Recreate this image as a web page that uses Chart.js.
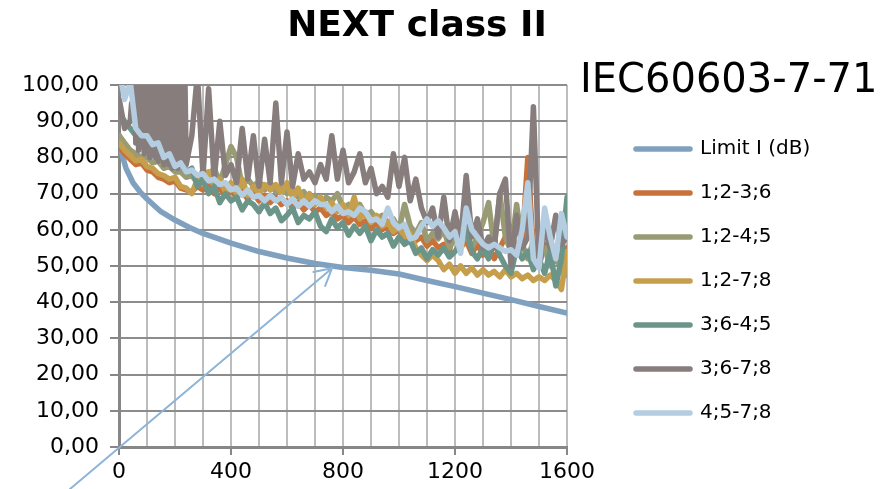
<!DOCTYPE html>
<html>
<head>
<meta charset="utf-8">
<title>NEXT class II</title>
<script src="https://cdn.jsdelivr.net/npm/chart.js@4.4.1/dist/chart.umd.min.js"></script>
<style>
  html, body { margin: 0; padding: 0; background: #fff; }
  #wrap { width: 887px; height: 489px; }
</style>
</head>
<body>
<div id="wrap"><canvas id="nextChart" width="887" height="489"></canvas></div>
<script>
// Titles
const chartTitle = 'NEXT class II';
const standardName = 'IEC60603-7-71';

// Limit line (dB)
const limitFreq = [1, 10, 25, 50, 75, 100, 150, 200, 250, 300, 400, 500, 600, 700, 800, 900, 1000, 1100, 1200, 1300, 1400, 1500, 1600];
const limitDb = [86, 81, 77, 73, 70.5, 68.5, 65, 62.7, 60.7, 59, 56.3, 54, 52.2, 50.7, 49.6, 48.8, 47.8, 46, 44.3, 42.5, 40.7, 38.8, 37];

// Measured pairs, sampled every 20 MHz
const freqMHz = [1, 20, 40, 60, 80, 100, 120, 140, 160, 180, 200, 220, 240, 260, 280, 300, 320, 340, 360, 380,
  400, 420, 440, 460, 480, 500, 520, 540, 560, 580, 600, 620, 640, 660, 680, 700, 720, 740, 760, 780,
  800, 820, 840, 860, 880, 900, 920, 940, 960, 980, 1000, 1020, 1040, 1060, 1080, 1100, 1120, 1140, 1160, 1180,
  1200, 1220, 1240, 1260, 1280, 1300, 1320, 1340, 1360, 1380, 1400, 1420, 1440, 1460, 1480, 1500, 1520, 1540, 1560, 1580, 1600];

// 3;6-7;8 swings very fast below 250 MHz, so it is read more finely there
const freqGray = [1, 20, 40, 45, 50, 55, 60, 65, 70, 75, 80, 85, 90, 95, 100, 105, 110, 115, 120, 125,
  130, 135, 140, 145, 150, 155, 160, 165, 170, 175, 180, 185, 190, 195, 200, 205, 210, 215, 220, 225,
  230, 235, 240, 260, 280, 300, 320, 340, 360, 380, 400, 420, 440, 460, 480, 500, 520, 540, 560, 580,
  600, 620, 640, 660, 680, 700, 720, 740, 760, 780, 800, 820, 840, 860, 880, 900, 920, 940, 960, 980,
  1000, 1020, 1040, 1060, 1080, 1100, 1120, 1140, 1160, 1180, 1200, 1220, 1240, 1260, 1280, 1300, 1320, 1340, 1360, 1380,
  1400, 1420, 1440, 1460, 1480, 1500, 1520, 1540, 1560, 1580, 1600];

const pair12_36 = [83, 81, 79.5, 78, 78.5, 76.5, 76, 74.5, 74, 73, 73.5, 71.5, 71, 70.5, 72, 71, 72.5, 70, 71.5, 69.5,
  71, 69, 70.5, 68.5, 70, 68, 69.5, 67.5, 69, 67, 68, 66, 67.5, 65.5, 67, 65, 66, 64, 65, 63,
  64, 62, 63.5, 61.5, 62.5, 60.5, 62, 60, 61, 59, 60, 57.5, 61, 57, 58, 55.5, 57, 55, 56, 54,
  62, 55, 57, 53.5, 56, 53, 55.5, 52, 55, 58, 61, 53, 56, 80, 54, 50, 56, 52, 54, 50, 55];

const pair12_45 = [86, 84, 82, 81, 80, 80, 78.5, 79, 77, 77.5, 76, 76, 74.5, 75, 73, 76.5, 75, 77, 73, 78,
  83, 80, 72, 74, 72, 73.5, 71, 73, 70.5, 72, 70, 71.5, 69, 70.5, 68, 69.5, 67, 69, 68, 70,
  66, 67, 65, 67, 64, 65, 63, 64, 62, 63, 60, 67, 61, 59, 62, 57, 59, 57.5, 60, 55,
  58, 56, 59, 55, 58, 62, 67.5, 55, 70, 58, 54, 67, 56, 52, 57, 53, 55, 50, 52, 49, 47.5];

const pair12_78 = [84, 82, 80.5, 79, 79.5, 77.5, 77, 75.5, 75, 74, 74.5, 72, 71.5, 70, 74, 72.5, 76, 72, 74, 70.5,
  73, 70, 74, 69.5, 72, 70, 72.5, 71, 72.5, 70, 73, 69, 71.5, 67.5, 70, 67, 69, 66, 67.5, 65,
  67, 64, 69, 63, 65, 62, 64, 61, 62, 59.5, 61, 58, 59, 55, 53, 51.5, 53, 51.5, 49, 50.5,
  48, 50, 48, 49.5, 47.5, 49, 47.5, 48.5, 47, 49, 47, 48, 46.5, 47.5, 46, 47, 46, 47.5, 46, 43.5, 54];

const pair36_45 = [92, 90, 88, 86, 84, 85, 82, 84, 80, 82, 79, 80, 76, 77, 72, 74, 70, 72, 67.5, 70,
  68, 69, 65.5, 68, 67, 65, 67.5, 64.5, 66, 62.5, 64, 66, 62, 64, 63, 65, 61, 59.5, 63, 60.5,
  62, 58.5, 61, 59, 61, 57, 60, 58, 59, 55.5, 58, 56, 57, 53.5, 55, 52, 54.5, 53, 55, 52.5,
  54, 56, 61, 54, 52, 55, 52, 57, 53, 50, 48, 55, 52, 54, 49, 52, 48, 54, 44.5, 52, 69];

const pair36_78 = [96, 88, 90, 95, 92, 104, 84, 104, 82, 104, 83, 104, 81, 104, 82, 104, 80, 104, 81, 104,
  80, 104, 79, 104, 80, 104, 78, 104, 79, 104, 78, 104, 77, 104, 78, 104, 77, 104, 78, 104,
  77, 104, 78, 86, 103, 75, 99, 74, 90, 75, 78, 73, 88, 74, 86, 72, 85, 73, 95, 73,
  87, 72, 81, 74, 76, 73, 78, 74, 86, 74, 82, 73, 76, 81, 73, 77, 70, 72, 69, 81,
  72, 80, 68, 74, 66, 62, 66, 58, 69, 57, 65, 57, 75, 58, 63, 55, 58, 55, 70, 74,
  50, 64, 55, 58, 94, 50, 61, 55, 64, 56, 58];

const pair45_78 = [104, 96, 101, 88, 86, 86, 83.5, 84, 80, 81, 77.5, 78.5, 76, 76.5, 75, 75.5, 73.5, 74, 72.5, 73,
  71, 71.5, 69.5, 71, 69, 69.5, 68, 69.5, 68, 69, 67, 68.5, 66.5, 68, 66.5, 68, 67, 67, 65, 66.5,
  64.5, 65, 64, 66, 65, 62.5, 63, 61.5, 66, 62, 60.5, 61.5, 57.5, 58, 61, 63, 61, 62.5, 60.5, 58,
  59.5, 53.5, 66, 60, 58, 56, 55, 56, 55, 54, 54.5, 53, 60, 73, 52, 49.5, 66, 58, 52, 64.5, 58];

// Arrow note, in data units (tail starts below/left of the plot)
const arrowFrom = [-175, -11.6];
const arrowTo = [761, 49.4];

const FONT = '"DejaVu Sans", sans-serif';

function toPoints(xs, ys) {
  return xs.map((x, i) => ({ x: x, y: ys[i] }));
}

function series(label, xs, ys, color, order) {
  return {
    label: label,
    data: toPoints(xs, ys),
    borderColor: color,
    backgroundColor: color,
    borderWidth: 5.5,
    pointRadius: 0,
    pointHoverRadius: 0,
    tension: 0,
    borderJoinStyle: 'round',
    borderCapStyle: 'round',
    clip: 0,
    order: order
  };
}

const datasets = [
  series('Limit I (dB)', limitFreq, limitDb, '#7FA1BF', 6),
  series('1;2-3;6', freqMHz, pair12_36, '#C8723B', 5),
  series('1;2-4;5', freqMHz, pair12_45, '#989B74', 4),
  series('1;2-7;8', freqMHz, pair12_78, '#C69F4D', 3),
  series('3;6-4;5', freqMHz, pair36_45, '#6B9589', 2),
  series('3;6-7;8', freqGray, pair36_78, '#867D7C', 1),
  series('4;5-7;8', freqMHz, pair45_78, '#B4CDE1', 0)
];

// Titles and the arrow pointing at the limit curve
const notesPlugin = {
  id: 'notes',
  afterDatasetsDraw(chart) {
    const c = chart.ctx;
    const xs = chart.scales.x, ys = chart.scales.y;
    const x0 = xs.getPixelForValue(arrowFrom[0]), y0 = ys.getPixelForValue(arrowFrom[1]);
    const x1 = xs.getPixelForValue(arrowTo[0]), y1 = ys.getPixelForValue(arrowTo[1]);
    const ang = Math.atan2(y1 - y0, x1 - x0);
    const head = 19;
    c.save();
    c.strokeStyle = '#8EB4D8';
    c.lineWidth = 2;
    c.lineCap = 'round';
    c.beginPath();
    c.moveTo(x0, y0);
    c.lineTo(x1, y1);
    c.moveTo(x1 - head * Math.cos(ang - 0.5), y1 - head * Math.sin(ang - 0.5));
    c.lineTo(x1, y1);
    c.lineTo(x1 - head * Math.cos(ang + 0.5), y1 - head * Math.sin(ang + 0.5));
    c.stroke();
    c.restore();
  },
  afterDraw(chart) {
    const c = chart.ctx;
    c.save();
    c.fillStyle = '#000';
    c.textBaseline = 'middle';
    c.textAlign = 'center';
    c.font = 'bold 36px ' + FONT;
    c.fillText(chartTitle, 417, 27);
    c.textAlign = 'left';
    c.font = '40px ' + FONT;
    c.fillText(standardName, 580, 82);
    c.restore();
  }
};

const ctx = document.getElementById('nextChart');

new Chart(ctx, {
  type: 'line',
  data: { datasets: datasets },
  plugins: [notesPlugin],
  options: {
    responsive: false,
    animation: false,
    events: [],
    layout: {
      padding: { top: 85, left: 0, right: 75, bottom: 0 }
    },
    plugins: {
      title: { display: false },
      tooltip: { enabled: false },
      legend: {
        position: 'right',
        align: 'end',
        fullSize: false,
        maxWidth: 200,
        labels: {
          usePointStyle: true,
          pointStyle: 'line',
          pointStyleWidth: 54,
          padding: 24,
          color: '#000',
          font: { family: FONT, size: 20 },
          generateLabels: function(chart) {
            const items = Chart.defaults.plugins.legend.labels.generateLabels(chart);
            return items.map(item => Object.assign(item, { lineCap: 'round' }));
          },
          sort: (a, b) => a.datasetIndex - b.datasetIndex
        }
      }
    },
    scales: {
      x: {
        type: 'linear',
        min: 0,
        max: 1600,
        afterFit: function(scale) { scale.height = 42; },
        border: { color: '#878787', width: 3 },
        grid: {
          color: '#BDBDBD',
          lineWidth: 2,
          tickLength: 8,
          tickWidth: 2,
          tickColor: function(c) {
            return c.tick && c.tick.value % 400 === 0 ? '#878787' : 'rgba(0,0,0,0)';
          }
        },
        ticks: {
          stepSize: 100,
          autoSkip: false,
          maxRotation: 0,
          minRotation: 0,
          padding: 4,
          color: '#000',
          font: { family: FONT, size: 22 },
          callback: function(value) {
            return value % 400 === 0 ? String(value) : '';
          }
        }
      },
      y: {
        type: 'linear',
        min: 0,
        max: 100,
        afterFit: function(scale) { scale.width = 119; },
        border: { color: '#878787', width: 3 },
        grid: {
          color: '#8C8C8C',
          lineWidth: 2,
          tickLength: 9,
          tickWidth: 2,
          tickColor: '#878787'
        },
        ticks: {
          stepSize: 10,
          padding: 11,
          color: '#000',
          font: { family: FONT, size: 22 },
          callback: function(value) {
            return value.toFixed(2).replace('.', ',');
          }
        }
      },
      // empty right axis, only keeps a gap between the plot and the legend
      gap: {
        type: 'linear',
        position: 'right',
        display: true,
        afterFit: function(scale) { scale.width = 45; },
        border: { display: false },
        grid: { display: false },
        ticks: { display: false }
      }
    }
  }
});
</script>
</body>
</html>
